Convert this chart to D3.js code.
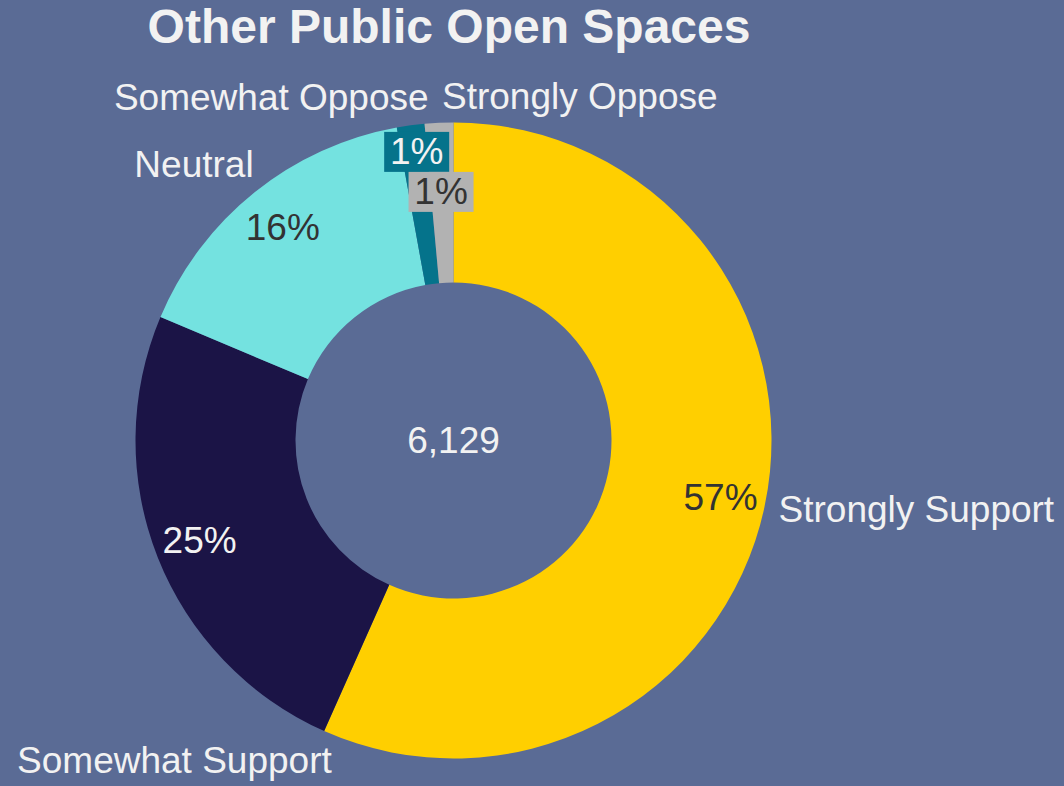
<!DOCTYPE html>
<html>
<head>
<meta charset="utf-8">
<script src="https://cdn.jsdelivr.net/npm/d3@7/dist/d3.min.js"></script>
<style>
  html, body { margin: 0; padding: 0; background: #5a6b95; }
  svg { display: block; }
  text { font-family: "Liberation Sans", Arial, sans-serif; }
</style>
</head>
<body>
<svg id="chart" width="1064" height="786"></svg>
<script>
// ---- data ----
const title = "Other Public Open Spaces";
const categories = ["Strongly Support", "Somewhat Support", "Neutral", "Somewhat Oppose", "Strongly Oppose"];
const counts = [3473, 1513, 968, 86, 89];
const colors = ["#ffcf00", "#1b1446", "#74e2e0", "#05738b", "#b2b2b2"];
const pctTextColors = ["#333333", "#f2f2f2", "#333333", "#f2f2f2", "#333333"];
const totalLabel = "6,129";

// ---- layout ----
const W = 1064, H = 786;
const cx = 453.5, cy = 440.5;
const outerR = 318, innerR = 158, pctR = 273;
const fontSize = 37;
// outer label placement: anchor + nudge relative to the slice's outer mid point
const outerLabelLayout = {
  "Strongly Support": { anchor: "start", dx: 14, dy: 3 },
  "Somewhat Support": { anchor: "end",   dx: 174, dy: 203 },
  "Neutral":          { anchor: "end",   dx: -1, dy: -28 },
  "Somewhat Oppose":  { anchor: "end",   dx: 18, dy: -28 },
  "Strongly Oppose":  { anchor: "start", dx: 3, dy: -26 }
};

const svg = d3.select("#chart");
svg.append("rect").attr("width", W).attr("height", H).attr("fill", "#5a6b95");

svg.append("text")
  .attr("x", 449).attr("y", 43)
  .attr("text-anchor", "middle")
  .attr("font-size", 48).attr("font-weight", "bold")
  .attr("fill", "#f2f2f2")
  .text(title);

const data = categories.map((c, i) => ({ cat: c, value: counts[i], color: colors[i], tc: pctTextColors[i] }));
const total = d3.sum(counts);

const pie = d3.pie().value(d => d.value).sort(null).startAngle(0).endAngle(2 * Math.PI);
const arcs = pie(data);

const arc = d3.arc().innerRadius(innerR).outerRadius(outerR);
const g = svg.append("g").attr("transform", `translate(${cx},${cy})`);

g.selectAll("path.slice").data(arcs).join("path")
  .attr("class", "slice")
  .attr("d", arc)
  .attr("fill", d => d.data.color);

// center total
g.append("text")
  .attr("x", 0).attr("y", 0)
  .attr("text-anchor", "middle")
  .attr("dominant-baseline", "central")
  .attr("font-size", fontSize)
  .attr("fill", "#f2f2f2")
  .text(totalLabel);

const fmtPct = v => Math.round(v / total * 100) + "%";
const mid = d => (d.startAngle + d.endAngle) / 2;
const pt = (a, r) => [Math.sin(a) * r, -Math.cos(a) * r];

// percent labels with simple vertical collision avoidance for small slices
const boxH = 40, boxW = 65;
const pl = arcs.map(d => {
  const [x, y] = pt(mid(d), pctR);
  return { d, x, y, small: (d.endAngle - d.startAngle) < 0.12 };
});
const smalls = pl.filter(p => p.small);
for (let i = 1; i < smalls.length; i++) {
  const a = smalls[i - 1], b = smalls[i];
  if (Math.abs(a.x - b.x) < boxW && Math.abs(a.y - b.y) < boxH) {
    const m = (a.y + b.y) / 2 + 3;
    a.y = m - boxH / 2;
    b.y = m + boxH / 2;
  }
}

const lg = g.append("g");
pl.forEach(p => {
  if (p.small) {
    lg.append("rect")
      .attr("x", p.x - boxW / 2).attr("y", p.y - boxH / 2)
      .attr("width", boxW).attr("height", boxH)
      .attr("fill", p.d.data.color);
  }
  lg.append("text")
    .attr("x", p.x).attr("y", p.y)
    .attr("text-anchor", "middle")
    .attr("dominant-baseline", "central")
    .attr("font-size", fontSize)
    .attr("fill", p.d.data.tc)
    .text(fmtPct(p.d.value));
});

// outer category labels
arcs.forEach(d => {
  const [x, y] = pt(mid(d), outerR);
  const L = outerLabelLayout[d.data.cat];
  g.append("text")
    .attr("x", x + L.dx).attr("y", y + L.dy)
    .attr("text-anchor", L.anchor)
    .attr("dominant-baseline", "central")
    .attr("font-size", fontSize)
    .attr("fill", "#f2f2f2")
    .text(d.data.cat);
});
</script>
</body>
</html>
